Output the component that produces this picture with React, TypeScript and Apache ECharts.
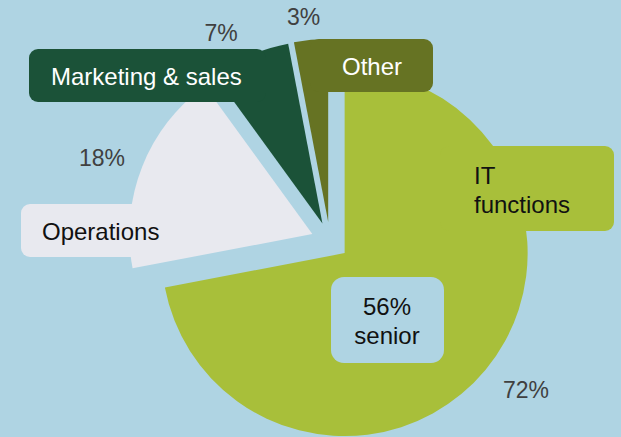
import React, { useEffect, useRef } from "react";
import * as echarts from "echarts";

// ---- data ----
const categories: string[] = ["IT functions", "Operations", "Marketing & sales", "Other"];
const shares: number[] = [72, 18, 7, 3];
const boxLabels: string[] = ["IT\nfunctions", "Operations", "Marketing & sales", "Other"];
const itSeniorShare = 56;

// ---- styling / layout ----
const BG = "#afd4e3";
const sliceColors = ["#a8bf3a", "#e8e9ef", "#1b5238", "#667323"];
const boxTextColors = ["#111111", "#111111", "#ffffff", "#ffffff"];
const PCT_COLOR = "#404040";
const FONT = '"Liberation Sans", Arial, sans-serif';

// label boxes [x, y, w, h] per category
const boxRects: number[][] = [
  [440, 146, 174, 85],
  [21, 204, 160, 53],
  [29, 49, 237, 53],
  [310, 39, 123, 53],
];
// label text anchors [x, y, align]
const boxTextPos: any[] = [
  [474, 189.5, "left"],
  [42, 231.5, "left"],
  [51, 76, "left"],
  [372, 66.5, "center"],
];
// percentage text centers
const pctPos: number[][] = [
  [526, 390],
  [102, 158],
  [221, 32.5],
  [303.5, 16.5],
];

export default function App() {
  const ref = useRef<HTMLDivElement>(null);
  useEffect(() => {
    if (!ref.current) return;
    const chart = echarts.init(ref.current, undefined, { renderer: "svg" });

    const graphics: any[] = [];
    categories.forEach((_, i) => {
      const [x, y, w, h] = boxRects[i];
      graphics.push({
        type: "rect",
        z: 10,
        shape: { x, y, width: w, height: h, r: 9 },
        style: { fill: sliceColors[i] },
      });
      const [tx, ty, al] = boxTextPos[i];
      graphics.push({
        type: "text",
        z: 11,
        x: tx,
        y: ty,
        style: {
          text: boxLabels[i],
          fill: boxTextColors[i],
          font: `24px ${FONT}`,
          lineHeight: 29,
          align: al,
          verticalAlign: "middle",
          textAlign: al,
          textVerticalAlign: "middle",
        },
      });
      const [px, py] = pctPos[i];
      graphics.push({
        type: "text",
        z: 11,
        x: px,
        y: py,
        style: {
          text: `${shares[i]}%`,
          fill: PCT_COLOR,
          font: `23px ${FONT}`,
          align: "center",
          verticalAlign: "middle",
          textAlign: "center",
          textVerticalAlign: "middle",
        },
      });
    });
    graphics.push({
      type: "rect",
      z: 10,
      shape: { x: 331, y: 277, width: 113, height: 86, r: 13 },
      style: { fill: BG },
    });
    graphics.push({
      type: "text",
      z: 11,
      x: 387,
      y: 321,
      style: {
        text: `${itSeniorShare}%\nsenior`,
        fill: "#111111",
        font: `24px ${FONT}`,
        lineHeight: 29,
        align: "center",
        verticalAlign: "middle",
        textAlign: "center",
        textVerticalAlign: "middle",
      },
    });

    chart.setOption({
      animation: false,
      backgroundColor: BG,
      series: [
        {
          type: "pie",
          center: [330, 241],
          radius: 183,
          startAngle: 90,
          clockwise: true,
          selectedMode: "multiple",
          selectedOffset: 19,
          label: { show: false },
          labelLine: { show: false },
          emphasis: { disabled: true },
          itemStyle: { borderWidth: 0 },
          data: categories.map((name, i) => ({
            name,
            value: shares[i],
            selected: true,
            itemStyle: { color: sliceColors[i] },
            select: { itemStyle: { color: sliceColors[i], borderWidth: 0 } },
          })),
        },
      ],
      graphic: graphics,
    });
    return () => chart.dispose();
  }, []);
  return (
    <div
      ref={ref}
      style={{ position: "fixed", left: 0, top: 0, width: 621, height: 437 }}
    />
  );
}
